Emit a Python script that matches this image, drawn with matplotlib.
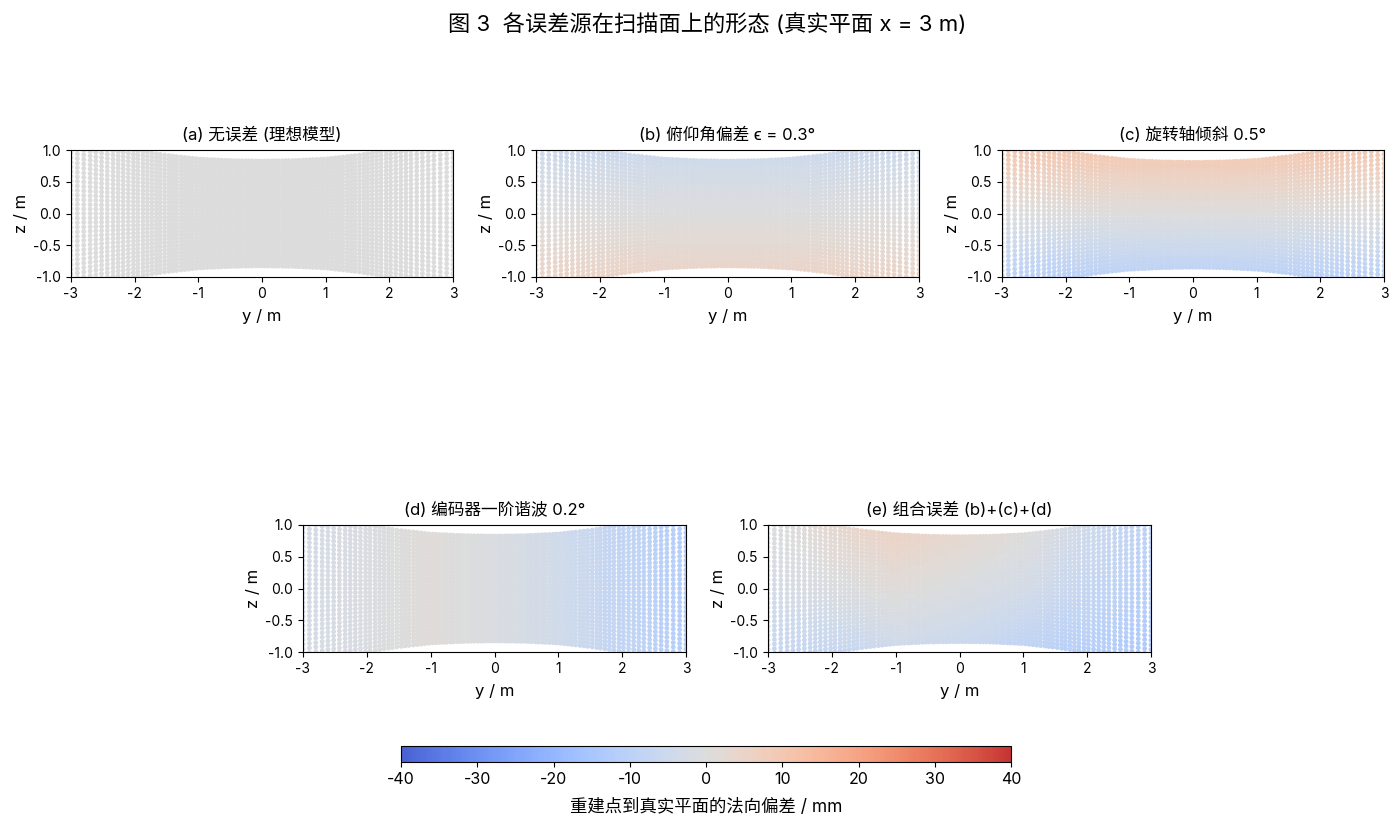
import matplotlib
matplotlib.use("Agg")
import matplotlib.pyplot as plt
from matplotlib.colors import LinearSegmentedColormap
import numpy as np

plt.rcParams['font.family'] = ['Inter', 'Noto Sans CJK SC', 'DejaVu Sans']
plt.rcParams['axes.unicode_minus'] = False

FIG_W, FIG_H = 1400, 826

# scan columns (y, m) for the positive half, mirrored below
col_half = [0.00, 0.05, 0.10, 0.16, 0.21, 0.26, 0.32, 0.37, 0.42, 0.48, 0.53,
            0.58, 0.64, 0.69, 0.75, 0.80, 0.86, 0.92, 0.97, 1.03, 1.09, 1.15,
            1.21, 1.27, 1.34, 1.40, 1.46, 1.53, 1.60, 1.66, 1.73, 1.80, 1.87,
            1.95, 2.02, 2.10, 2.18, 2.26, 2.34, 2.43, 2.52, 2.61, 2.70, 2.80,
            2.90, 3.00]
# scan rows at the y = 0 column (z, m), positive half
row_half = [0.000, 0.052, 0.103, 0.155, 0.206, 0.258, 0.309, 0.361, 0.413,
            0.464, 0.516, 0.567, 0.619, 0.670, 0.722, 0.774, 0.825]
# how much the rows spread out going away from the centre
stretch_y = [0.0, 0.5, 1.0, 1.5, 2.0, 2.5, 3.0]
stretch_k = [1.00, 1.01, 1.04, 1.11, 1.20, 1.31, 1.42]

# normal deviation (mm) at the knots below, rows are z = +1, 0, -1
knot_y = [-3, -2, -1, 0, 1, 2, 3]
dev_none = [[0, 0, 0, 0, 0, 0, 0],
            [0, 0, 0, 0, 0, 0, 0],
            [0, 0, 0, 0, 0, 0, 0]]
dev_pitch = [[-5, -5, -5, -5, -5, -5, -5],
             [0, 0, 0, 0, 0, 0, 0],
             [5, 5, 5, 5, 5, 5, 5]]
dev_tilt = [[10, 10, 10, 10, 10, 10, 10],
            [0, 0, 0, 0, 0, 0, 0],
            [-10, -10, -10, -10, -10, -10, -10]]
dev_enc = [[-3, -1, 1, -1, -4, -8, -12],
           [-3, -1, 1, -1, -4, -8, -12],
           [-3, -1, 1, -1, -4, -8, -12]]
dev_all = [[-1, 3, 6, 4, 1, -4, -10],
           [-3, -1, 1, -1, -3, -7, -11],
           [-7, -7, -5, -6, -9, -11, -14]]

titles = ["(a) 无误差 (理想模型)", "(b) 俯仰角偏差 ϵ = 0.3°", "(c) 旋转轴倾斜 0.5°",
          "(d) 编码器一阶谐波 0.2°", "(e) 组合误差 (b)+(c)+(d)"]
panel_devs = [dev_none, dev_pitch, dev_tilt, dev_enc, dev_all]
z_shift = [0.0, 0.0, -0.02, 0.0, -0.01]

y_ticks = [-3, -2, -1, 0, 1, 2, 3]
z_ticks = [-1.0, -0.5, 0.0, 0.5, 1.0]
cbar_ticks = [-40, -30, -20, -10, 0, 10, 20, 30, 40]


def px_axes(fig, x0, y0, x1, y1):
    # axes from pixel box, y counted from the top
    return fig.add_axes([x0 / FIG_W, 1 - y1 / FIG_H, (x1 - x0) / FIG_W, (y1 - y0) / FIG_H])


def deviation(table, y, z):
    top = np.interp(y, knot_y, table[0])
    mid = np.interp(y, knot_y, table[1])
    bot = np.interp(y, knot_y, table[2])
    return np.where(z >= 0, mid + (top - mid) * z, mid + (mid - bot) * z)


# coolwarm without its darkest ends
base = plt.get_cmap('coolwarm')
soft_cw = LinearSegmentedColormap.from_list('soft_cw', base(np.linspace(0.05, 0.95, 256)))

cols = np.array([-c for c in col_half[:0:-1]] + col_half)
rows = np.array([-r for r in row_half[:0:-1]] + row_half)
yy, rr = np.meshgrid(cols, rows)
zz = rr * np.interp(np.abs(yy), stretch_y, stretch_k)

fig = plt.figure(figsize=(14, 8.26), dpi=100)
fig.text(707 / FIG_W, 1 - 24 / FIG_H, "图 3  各误差源在扫描面上的形态 (真实平面 x = 3 m)",
         ha='center', va='center', fontsize=16)

boxes = [(71, 150, 453, 277), (536, 150, 919, 277), (1002, 150, 1384, 277),
         (303, 525, 686, 652), (768, 525, 1151, 652)]

for box, title, table, shift in zip(boxes, titles, panel_devs, z_shift):
    ax = px_axes(fig, *box)
    z = zz + shift
    sc = ax.scatter(yy.ravel(), z.ravel(), c=deviation(table, yy, z).ravel(),
                    s=12, marker='o', linewidths=0, cmap=soft_cw, vmin=-40, vmax=40)
    ax.set_xlim(-3, 3)
    ax.set_ylim(-1, 1)
    ax.set_xticks(y_ticks)
    ax.set_yticks(z_ticks)
    ax.tick_params(labelsize=10, length=3.5, width=0.8, pad=4)
    ax.set_xlabel("y / m", fontsize=12, labelpad=5.5)
    ax.set_ylabel("z / m", fontsize=12, labelpad=3)
    ax.set_title(title, fontsize=12, pad=7.5)

cax = px_axes(fig, 401, 746, 1011, 762)
cb = fig.colorbar(sc, cax=cax, orientation='horizontal')
cb.set_ticks(cbar_ticks)
cb.ax.tick_params(labelsize=11.5, length=3.5, width=0.8, pad=4)
cb.set_label("重建点到真实平面的法向偏差 / mm", fontsize=12.5, labelpad=8)

fig.savefig("out.png", dpi=100)
